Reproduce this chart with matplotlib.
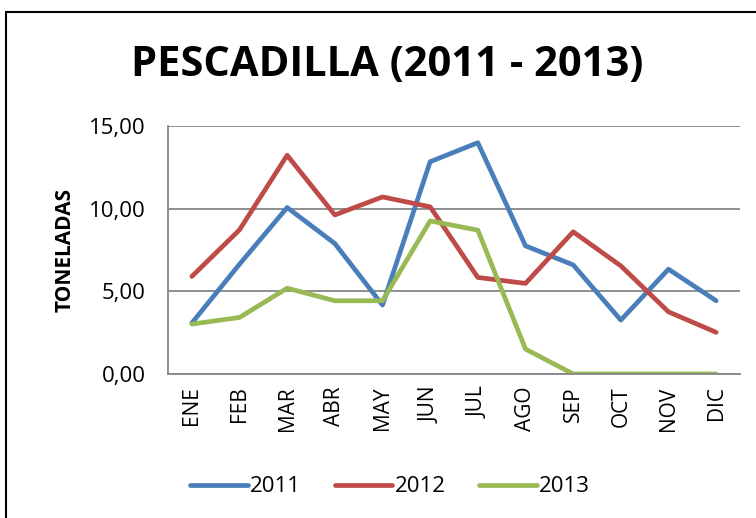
import matplotlib.pyplot as plt
from matplotlib.patches import Rectangle
from matplotlib.ticker import FuncFormatter

# data (toneladas por mes)
months = ['ENE', 'FEB', 'MAR', 'ABR', 'MAY', 'JUN', 'JUL', 'AGO', 'SEP', 'OCT', 'NOV', 'DIC']
y2011 = [3.08, 6.64, 10.07, 7.89, 4.17, 12.84, 13.99, 7.75, 6.60, 3.26, 6.34, 4.43]
y2012 = [5.90, 8.72, 13.23, 9.62, 10.71, 10.11, 5.84, 5.48, 8.60, 6.54, 3.76, 2.52]
y2013 = [3.02, 3.42, 5.19, 4.43, 4.43, 9.26, 8.70, 1.51, 0.0, 0.0, 0.0, 0.0]
yticks = [0, 5, 10, 15]

plt.rcParams['font.family'] = ['Open Sans', 'DejaVu Sans']

fig = plt.figure(figsize=(7.56, 5.18), dpi=100)
ax = fig.add_axes([168 / 756, 1 - 374 / 518, (740 - 168) / 756, (374 - 126) / 518])

# outer chart frame (clipped at right and bottom as in the reference)
fig.patches.append(Rectangle((6 / 756, -0.2), 1.2, 1.2 - 12 / 518, transform=fig.transFigure,
                             fill=False, edgecolor='black', linewidth=1.5))

x = list(range(len(months)))
series = [(y2011, '2011', '#4A7EBB'), (y2012, '2012', '#BE4B48'), (y2013, '2013', '#98B954')]
for vals, lab, col in series:
    ax.plot(x, vals, color=col, linewidth=3.4, label=lab, solid_capstyle='round', solid_joinstyle='round')

ax.set_xlim(-0.5, len(months) - 0.5)
ax.set_ylim(0, 15)
ax.set_yticks(yticks)
ax.yaxis.set_major_formatter(FuncFormatter(lambda v, p: f'{v:.2f}'.replace('.', ',')))
ax.set_xticks(x)
ax.set_xticklabels(months, rotation=90, fontsize=15)
ax.tick_params(axis='y', labelsize=16, length=0, pad=16)
ax.tick_params(axis='x', length=0, pad=9)
ax.grid(axis='y', color='#868686', linewidth=1.3)
ax.set_axisbelow(True)
for s in ['top', 'right']:
    ax.spines[s].set_visible(False)
for s in ['left', 'bottom']:
    ax.spines[s].set_color('#868686')
    ax.spines[s].set_linewidth(1.3)

ax.set_ylabel('TONELADAS', fontsize=15, fontweight='bold', labelpad=10)

fig.text(387 / 756, 1 - 66 / 518, 'PESCADILLA (2011 - 2013)', ha='center', va='center',
         fontsize=30, fontweight='bold', family=['Liberation Sans Narrow', 'Open Sans'])

fig.legend(loc='center', bbox_to_anchor=(390 / 756, 1 - 487 / 518), ncol=3, frameon=False,
           fontsize=16, handlelength=2.6, handletextpad=0.1, columnspacing=1.5)

fig.savefig('out.png', dpi=100)
